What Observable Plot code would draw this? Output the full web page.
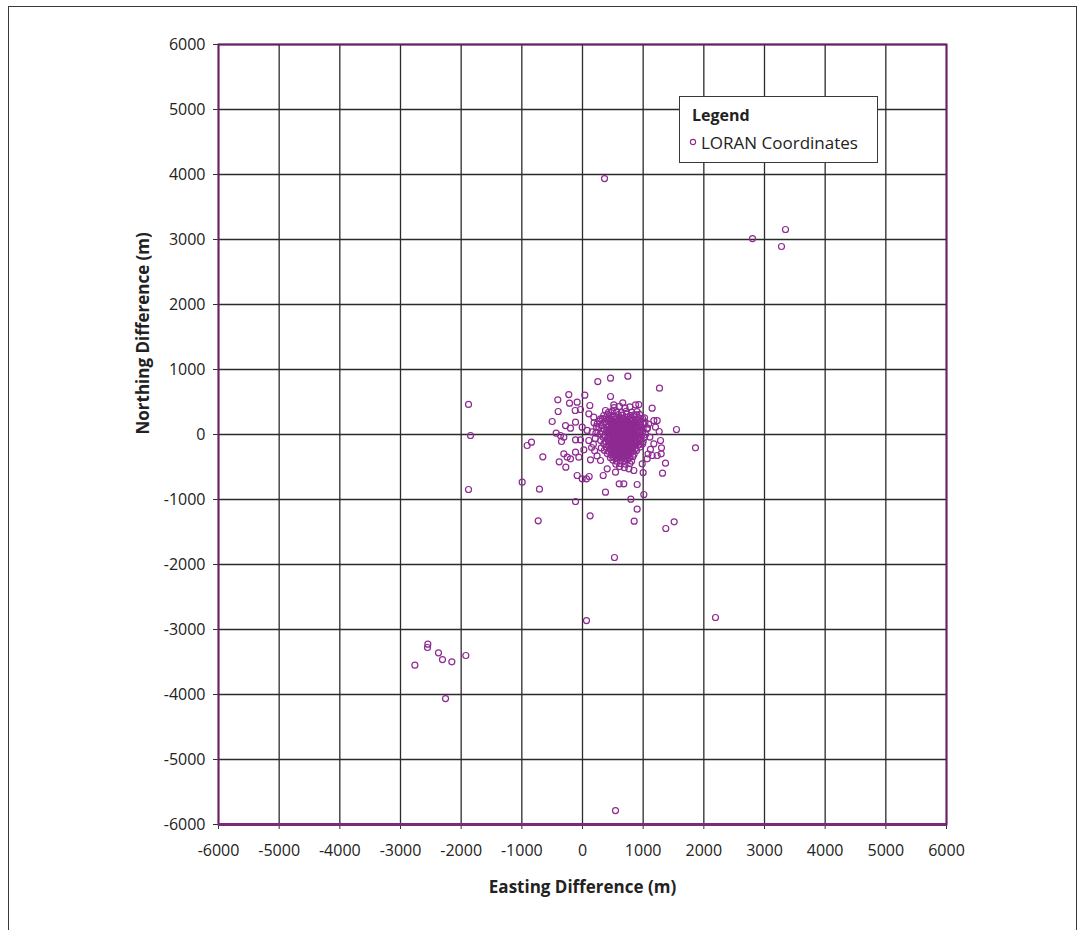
<!DOCTYPE html>
<html>
<head>
<meta charset="utf-8">
<script src="https://cdn.jsdelivr.net/npm/d3@7"></script>
<script src="https://cdn.jsdelivr.net/npm/@observablehq/plot@0.6"></script>
<style>
  html, body { margin: 0; padding: 0; background: #fff; }
  #wrap { position: relative; width: 1086px; height: 930px; overflow: hidden; font-family: "Open Sans", sans-serif; }
  #border { position: absolute; left: 8px; top: 6px; width: 1069px; height: 960px; border: 1.5px solid #3a3a3a; box-sizing: border-box; }
  #chart { position: absolute; left: 0; top: 0; }
  #legend { position: absolute; left: 679px; top: 96px; width: 199px; height: 67px; border: 1.5px solid #3a3a3a; background: #fff; box-sizing: border-box; color: #222; }
  #legend .t { position: absolute; left: 12px; top: 7px; font-weight: bold; font-size: 16px; }
  #legend .i { position: absolute; left: 9px; top: 34px; font-size: 17px; white-space: nowrap; }
  #legend svg { vertical-align: middle; margin-right: 4px; position: relative; top: -2px; }
</style>
</head>
<body>
<div id="wrap">
  <div id="border"></div>
  <div id="chart"></div>
  <div id="legend">
    <div class="t">Legend</div>
    <div class="i"><svg width="8" height="8"><circle cx="4" cy="4" r="2.6" fill="none" stroke="#8e2a92" stroke-width="1.1"></circle></svg>LORAN Coordinates</div>
  </div>
</div>
<script>
// Tick values
const xTicks = [-6000,-5000,-4000,-3000,-2000,-1000,0,1000,2000,3000,4000,5000,6000];
const yTicks = [-6000,-5000,-4000,-3000,-2000,-1000,0,1000,2000,3000,4000,5000,6000];
const xLabel = "Easting Difference (m)";
const yLabel = "Northing Difference (m)";
const seriesName = "LORAN Coordinates";

// Far outliers [easting, northing]
const farPoints = [
  [363,3938],[2802,3015],[3280,2892],[3346,3154],[-1879,462],[-1846,-15],[-1879,-846],
  [66,-2862],[527,-1892],[2192,-2815],[544,-5785],
  [-2549,-3226],[-2555,-3277],[-2374,-3359],[-2308,-3462],[-2154,-3497],[-1923,-3400],
  [-2763,-3549],[-2258,-4062]
];

// Scattered points around the cluster
const haloPoints = [
  [252,815],[462,866],[747,897],[1269,712],[-226,615],[-407,534],[-214,482],[-88,497],[38,605],
  [-401,354],[-121,369],[-33,385],[121,446],[-500,200],[-280,138],[-198,97],[-115,189],[-5,113],
  [-434,20],[-363,-15],[-308,-41],[-346,-108],[-912,-169],[-841,-118],[-654,-343],[-308,-297],
  [-252,-349],[-384,-420],[-275,-503],[-198,-374],[-115,-272],[-60,-349],[-88,-631],[-5,-682],
  [66,-682],[110,-646],[-994,-733],[-709,-841],[379,-887],[605,-759],[681,-759],[901,-769],
  [1011,-923],[797,-995],[901,-1149],[-115,-1031],[126,-1251],[-730,-1328],[852,-1334],
  [1373,-1446],[1511,-1344],[1862,-205],[1549,77],[1319,-595],[1368,-441],[1302,-205],
  [1297,-297],[1264,46],[1231,215],[1148,405],[928,461],[874,457],[664,488],[516,457],[462,585],
  [104,318],[186,266],[297,241],[379,369],[890,303],[1022,257],[1176,215],[1203,112],[1066,87],
  [1286,-92],[1176,-143],[1148,-323],[1231,-323],[1066,-374],[984,-451],[1000,-585],[846,-554],
  [764,-528],[544,-580],[407,-528],[341,-631],[297,-400],[132,-390],[22,-236],[104,-92],
  [-33,-82],[-115,-82],[77,62],[242,164],
  [180,-150],[210,-60],[160,40],[230,120],[200,-250],[240,-330],[150,-200],[220,20],[190,180],
  [1110,-40],[1090,160],[1120,-230],[1080,-300]
];

// Dense core of the cluster
const corePoints = [
  [520,415],[610,432],[700,410],[780,425],
  [430,342],[490,361],[560,347],[640,338],[720,358],[810,345],[900,352],
  [350,292],[410,311],[470,296],[530,288],[590,307],[660,299],[730,313],[790,291],[850,302],[940,309],
  [330,243],[390,258],[450,247],[510,262],[560,239],[620,255],[680,244],[740,260],[800,249],[870,238],[930,257],[990,246],
  [280,207],[360,193],[420,211],[470,198],[520,186],[570,204],[610,192],[660,213],[700,199],[750,188],[810,206],[860,194],[910,209],[960,201],[1030,190],
  [310,144],[390,157],[440,139],[490,152],[540,161],[580,147],[630,136],[670,155],[720,143],[760,159],[800,148],[850,137],[900,153],[950,146],[1010,158],
  [270,106],[350,94],[410,109],[460,91],[500,103],[550,112],[590,96],[640,104],[680,89],[720,107],[770,98],[810,111],[860,93],[900,102],[950,108],[1000,95],[1070,101],
  [330,44],[400,57],[450,48],[490,61],[530,42],[570,53],[610,46],[650,59],[690,41],[730,55],[770,47],[810,62],[850,44],[890,56],[940,49],[990,43],
  [290,6],[370,-8],[430,11],[470,-3],[510,9],[550,-12],[590,4],[630,-6],[670,13],[710,-9],[750,2],[790,-14],[830,8],[870,-4],[920,12],[970,-7],[1040,3],
  [340,-44],[410,-58],[460,-47],[500,-61],[540,-42],[580,-55],[620,-49],[660,-38],[700,-57],[740,-46],[780,-63],[820,-41],[860,-53],[910,-45],[960,-59],[1020,-48],
  [300,-94],[380,-108],[440,-97],[480,-112],[520,-91],[560,-104],[600,-115],[640,-96],[680,-107],[720,-89],[760,-102],[800,-113],[840,-95],[890,-106],[940,-99],[1000,-110],
  [350,-144],[420,-158],[470,-141],[510,-155],[550,-162],[590,-147],[630,-139],[670,-153],[710,-146],[750,-160],[790,-142],[830,-151],[880,-137],[930,-156],[990,-148],
  [310,-206],[390,-193],[450,-211],[500,-198],[540,-187],[580,-205],[620,-214],[660,-196],[700,-203],[740,-190],[780,-209],[830,-199],[880,-212],[950,-194],
  [360,-243],[430,-258],[480,-247],[530,-261],[570,-239],[610,-252],[650,-244],[690,-259],[730,-248],[780,-237],[830,-255],[890,-246],
  [410,-293],[470,-311],[520,-297],[560,-288],[600,-304],[640,-312],[690,-295],[740,-307],[790,-291],[850,-302],
  [460,-358],[510,-347],[560,-361],[610,-339],[660,-352],[710,-345],[770,-357],[830,-341],
  [500,-393],[560,-411],[620,-398],[680,-405],[740,-391],[810,-409],
  [550,-458],[620,-443],[700,-455],[780,-449],
  [610,-494],[690,-511],
  [475,225],[545,228],[595,222],[645,231],[715,219],[785,226],[835,221],
  [465,175],[515,172],[565,178],[605,170],[655,181],[705,174],[745,169],[795,177],[845,173],[885,180],
  [475,125],[525,128],[575,121],[615,130],[665,124],[705,119],[745,127],[795,122],[835,131],[885,126],
  [470,75],[510,78],[550,71],[590,80],[630,73],[670,77],[710,70],[750,79],[790,74],[830,72],[870,78],
  [450,25],[490,28],[530,21],[570,30],[610,23],[650,27],[690,20],[730,29],[770,24],[810,22],[850,31],[895,26],
  [480,-25],[520,-22],[560,-28],[600,-21],[640,-29],[680,-24],[720,-27],[760,-20],[800,-26],[840,-23],[885,-30],
  [460,-75],[500,-78],[540,-71],[580,-80],[620,-73],[660,-77],[700,-70],[740,-79],[780,-74],[820,-72],[865,-78],
  [490,-125],[530,-128],[570,-121],[610,-130],[650,-124],[690,-119],[730,-127],[770,-122],[810,-131],[855,-126],
  [475,-175],[520,-178],[560,-171],[600,-180],[640,-173],[680,-177],[720,-170],[760,-179],[805,-174],[855,-172],
  [505,-225],[550,-228],[590,-221],[630,-230],[670,-224],[710,-219],[755,-227],[805,-222],
  [495,-275],[540,-278],[580,-271],[620,-280],[665,-274],[715,-277],[765,-270],
  [535,-325],[585,-328],[635,-321],[685,-330],[740,-324]
];

const points = [...farPoints, ...haloPoints, ...corePoints].map(([e, n]) => ({e, n, s: seriesName}));

const fmt = d => String(d);
const dotColor = "#8e2a92";
const frameColor = "#6a1f6a";

const chart = Plot.plot({
  width: 1086,
  height: 930,
  marginLeft: 218,
  marginRight: 140,
  marginTop: 44,
  marginBottom: 106,
  style: { fontFamily: "'Open Sans', sans-serif", fontSize: "16px", color: "#222", background: "transparent" },
  x: { domain: [-6000, 6000] },
  y: { domain: [-6000, 6000] },
  marks: [
    Plot.gridX(xTicks, { stroke: "#2b2b2b", strokeOpacity: 1, strokeWidth: 1.3 }),
    Plot.gridY(yTicks, { stroke: "#2b2b2b", strokeOpacity: 1, strokeWidth: 1.3 }),
    Plot.axisX(xTicks, { tickSize: 5, tickPadding: 15, tickFormat: fmt, label: null, stroke: "#333", fontSize: 16 }),
    Plot.axisY(yTicks, { tickSize: 5, tickPadding: 8, tickFormat: fmt, label: null, stroke: "#333", fontSize: 16 }),
    Plot.frame({ stroke: frameColor, strokeWidth: 2 }),
    Plot.ruleY([-6000], { stroke: "#7a2a7a", strokeWidth: 3 }),
    Plot.text([xLabel], { frameAnchor: "bottom", dy: 56, text: d => d, fontWeight: "bold", fontSize: 17, lineAnchor: "top", fill: "#222" }),
    Plot.text([yLabel], { frameAnchor: "left", dx: -75, text: d => d, fontWeight: "bold", fontSize: 17, rotate: -90, fill: "#222" }),
    Plot.dot(points, { x: "e", y: "n", r: 3, stroke: dotColor, strokeWidth: 1.2, fill: "none" })
  ]
});
document.getElementById("chart").appendChild(chart);
</script>
</body>
</html>
